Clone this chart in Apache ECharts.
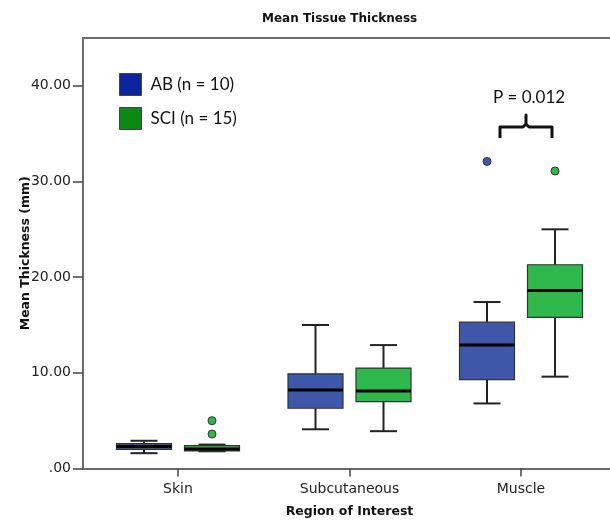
<!DOCTYPE html>
<html>
<head>
<meta charset="utf-8">
<title>Mean Tissue Thickness</title>
<script src="https://cdn.jsdelivr.net/npm/echarts@6/dist/echarts.min.js"></script>
<style>
  html, body { margin: 0; padding: 0; background: #fff; }
  #chart { width: 610px; height: 524px; }
</style>
</head>
<body>
<div id="chart"></div>
<script>
// regions on the x axis
var regions = ['Skin', 'Subcutaneous', 'Muscle'];
var yTicks = [0, 10, 20, 30, 40];

// box stats per region: [regionIndex, min, Q1, median, Q3, max]
var abBoxes = [
  [0, 1.6, 2.0, 2.3, 2.6, 2.9],
  [1, 4.1, 6.3, 8.2, 9.9, 15.0],
  [2, 6.8, 9.3, 12.9, 15.3, 17.4]
];
var sciBoxes = [
  [0, 1.8, 1.85, 2.05, 2.4, 2.5],
  [1, 3.9, 7.0, 8.1, 10.5, 12.9],
  [2, 9.6, 15.8, 18.6, 21.3, 25.0]
];
// outliers: [regionIndex, value]
var abOutliers = [[2, 32.1]];
var sciOutliers = [[0, 5.0], [0, 3.6], [2, 31.1]];

var abName = 'AB (n = 10)';
var sciName = 'SCI (n = 15)';
var pLabel = 'P = 0.012';

var chart = echarts.init(document.getElementById('chart'));

function boxRenderer(offset, fill) {
  return function (params, api) {
    var cat = api.value(0);
    var cx = api.coord([cat, 0])[0] + offset;
    var yMin = api.coord([cat, api.value(1)])[1];
    var yQ1 = api.coord([cat, api.value(2)])[1];
    var yMed = api.coord([cat, api.value(3)])[1];
    var yQ3 = api.coord([cat, api.value(4)])[1];
    var yMax = api.coord([cat, api.value(5)])[1];
    var half = 27.5, cap = 13.5;
    var line = { stroke: '#222', lineWidth: 2 };
    return {
      type: 'group',
      children: [
        { type: 'line', shape: { x1: cx, y1: yMax, x2: cx, y2: yQ3 }, style: line },
        { type: 'line', shape: { x1: cx, y1: yQ1, x2: cx, y2: yMin }, style: line },
        { type: 'line', shape: { x1: cx - cap, y1: yMax, x2: cx + cap, y2: yMax }, style: line },
        { type: 'line', shape: { x1: cx - cap, y1: yMin, x2: cx + cap, y2: yMin }, style: line },
        { type: 'rect', shape: { x: cx - half, y: yQ3, width: half * 2, height: yQ1 - yQ3 },
          style: { fill: fill, stroke: '#333', lineWidth: 1.2 } },
        { type: 'line', shape: { x1: cx - half, y1: yMed, x2: cx + half, y2: yMed },
          style: { stroke: '#000', lineWidth: 3 } }
      ]
    };
  };
}

var frameLine = { lineStyle: { color: '#6b6b6b', width: 2 } };

var option = {
  animation: false,
  textStyle: { fontFamily: 'DejaVu Sans' },
  title: {
    text: 'Mean Tissue Thickness',
    left: 257,
    top: 8,
    textStyle: { fontFamily: 'DejaVu Sans', fontSize: 12, fontWeight: 'bold', color: '#111' }
  },
  legend: {
    orient: 'vertical',
    left: 119,
    top: 73,
    padding: 0,
    itemWidth: 22,
    itemHeight: 22,
    itemGap: 11,
    icon: 'rect',
    data: [
      { name: abName, itemStyle: { color: '#0c249e', borderColor: '#444', borderWidth: 1 } },
      { name: sciName, itemStyle: { color: '#0a8a12', borderColor: '#444', borderWidth: 1 } }
    ],
    textStyle: { fontFamily: 'Lato', fontSize: 17, color: '#111', padding: [0, 0, 0, 4] }
  },
  grid: [
    { left: 83, right: 0, top: 38, bottom: 55.5 },
    { left: 92.25, right: 3.25, top: 38, bottom: 55.5 }
  ],
  xAxis: [
    { gridIndex: 0, type: 'category', data: [''], axisLine: frameLine,
      axisTick: { show: false }, axisLabel: { show: false }, splitLine: { show: false } },
    { gridIndex: 0, type: 'category', position: 'top', data: [''], axisLine: frameLine,
      axisTick: { show: false }, axisLabel: { show: false }, splitLine: { show: false } },
    {
      gridIndex: 1, type: 'category', data: regions,
      axisLine: { show: false },
      axisTick: { show: true, alignWithLabel: true, length: 8, lineStyle: { color: '#444', width: 1.5 } },
      axisLabel: { margin: 14, fontSize: 14, color: '#222', fontFamily: 'DejaVu Sans' },
      name: 'Region of Interest',
      nameLocation: 'middle',
      nameGap: 37,
      nameTextStyle: { fontFamily: 'DejaVu Sans', fontSize: 12.5, fontWeight: 'bold', color: '#111' }
    }
  ],
  yAxis: [
    {
      gridIndex: 0, type: 'value', min: 0, max: 45,
      axisLine: { show: true, lineStyle: { color: '#6b6b6b', width: 2 } },
      axisTick: { show: true, inside: false, length: 10, customValues: yTicks, lineStyle: { color: '#444', width: 1.5 } },
      axisLabel: {
        customValues: yTicks, margin: 12, fontSize: 14, color: '#222', fontFamily: 'DejaVu Sans',
        formatter: function (v) { return v === 0 ? '.00' : v.toFixed(2); }
      },
      splitLine: { show: false },
      name: 'Mean Thickness (mm)',
      nameLocation: 'middle',
      nameGap: 51,
      nameMoveOverlap: false,
      nameTextStyle: { fontFamily: 'DejaVu Sans', fontSize: 12.5, fontWeight: 'bold', color: '#111' }
    },
    { gridIndex: 1, type: 'value', min: 0, max: 45, show: false }
  ],
  series: [
    {
      name: abName, type: 'custom', xAxisIndex: 2, yAxisIndex: 1,
      itemStyle: { color: '#3f57a8' },
      encode: { x: 0, y: [1, 2, 3, 4, 5] },
      renderItem: boxRenderer(-34, '#3f57a8'),
      data: abBoxes
    },
    {
      name: sciName, type: 'custom', xAxisIndex: 2, yAxisIndex: 1,
      itemStyle: { color: '#2fb84b' },
      encode: { x: 0, y: [1, 2, 3, 4, 5] },
      renderItem: boxRenderer(34, '#2fb84b'),
      data: sciBoxes
    },
    {
      name: abName, type: 'scatter', xAxisIndex: 2, yAxisIndex: 1,
      symbolSize: 8, symbolOffset: [-34, 0],
      itemStyle: { color: '#3d5aa8', borderColor: '#333', borderWidth: 1, opacity: 1 },
      data: abOutliers
    },
    {
      name: sciName, type: 'scatter', xAxisIndex: 2, yAxisIndex: 1,
      symbolSize: 8, symbolOffset: [34, 0],
      itemStyle: { color: '#2db84a', borderColor: '#333', borderWidth: 1, opacity: 1 },
      data: sciOutliers
    }
  ]
};

chart.setOption(option);

// significance bracket over the Muscle boxes
var mid = chart.convertToPixel({ xAxisIndex: 2, yAxisIndex: 1 }, [2, 35.7]);
var x0 = mid[0] - 21, x1 = mid[0] + 31, xs = mid[0] + 5, yh = mid[1];
chart.setOption({
  graphic: [
    {
      type: 'polyline',
      shape: { points: [[x0, yh + 11], [x0, yh], [xs - 3, yh], [xs, yh - 3], [xs, yh - 12], [xs, yh - 3], [xs + 3, yh], [x1, yh], [x1, yh + 11]] },
      style: { stroke: '#111', lineWidth: 3, fill: null, lineJoin: 'round' }
    },
    {
      type: 'text',
      x: mid[0] + 8,
      y: yh - 29,
      style: { text: pLabel, fontFamily: 'Lato', fontSize: 17, fill: '#111', align: 'center', verticalAlign: 'middle' }
    }
  ]
});
</script>
</body>
</html>
